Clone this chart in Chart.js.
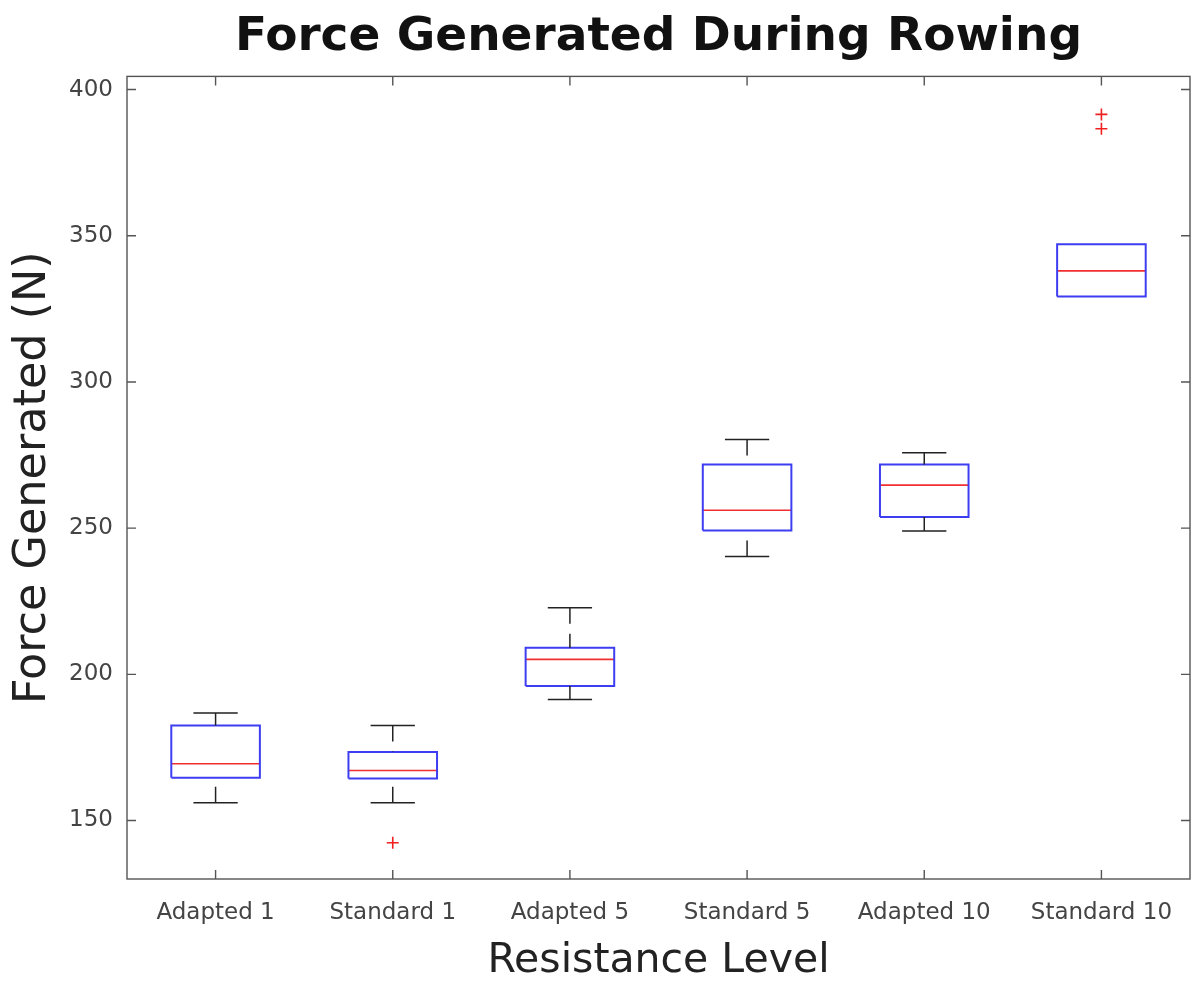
<!DOCTYPE html>
<html>
<head>
	<meta charset="utf-8">
	<title>Force Generated During Rowing</title>
	<script src="https://cdn.jsdelivr.net/npm/chart.js"></script>
	<style type="text/css">
		html, body { margin: 0; padding: 0; background: #fff; overflow: hidden; }
		#wrap { width: 1192px; height: 983px; position: relative; }
	</style>
</head>
<body>
<div id="wrap">
	<canvas id="rowChart"></canvas>
</div>
<script>
// values
const levels   = ['Adapted 1', 'Standard 1', 'Adapted 5', 'Standard 5', 'Adapted 10', 'Standard 10'];
const whiskLo  = [156.1, 156.1, 191.4, 240.3, 249.0, 329.2];
const q1       = [164.6, 164.4, 196.0, 249.2, 253.8, 329.2];
const medians  = [169.4, 167.1, 205.1, 256.1, 264.7, 338.0];
const q3       = [182.5, 173.4, 209.1, 271.8, 271.8, 347.1];
const whiskHi  = [186.8, 182.5, 222.8, 280.3, 275.8, 347.1];
const outGroup = [2, 6, 6];
const outValue = [142.4, 386.6, 391.5];
const yTicks   = [150, 200, 250, 300, 350, 400];

const FONT = "'DejaVu Sans', sans-serif";
const HALF_BOX = 0.25, HALF_CAP = 0.125;

// build line segments (null y breaks the line)
function segs(fn) {
	const out = [];
	levels.forEach(function(lab, i) {
		fn(i + 1, i).forEach(function(p) { out.push(p); });
		out.push({x: i + 1, y: null});
	});
	return out;
}

const boxData = segs(function(x, i) {
	return [{x: x - HALF_BOX, y: q1[i]}, {x: x - HALF_BOX, y: q3[i]},
	        {x: x + HALF_BOX, y: q3[i]}, {x: x + HALF_BOX, y: q1[i]},
	        {x: x - HALF_BOX, y: q1[i]}];
});
const medData = segs(function(x, i) {
	return [{x: x - HALF_BOX, y: medians[i]}, {x: x + HALF_BOX, y: medians[i]}];
});
const upWhisk = segs(function(x, i) {
	return [{x: x, y: whiskHi[i]}, {x: x, y: q3[i]}];
});
const loWhisk = segs(function(x, i) {
	return [{x: x, y: whiskLo[i]}, {x: x, y: q1[i]}];
});
const capData = [];
levels.forEach(function(lab, i) {
	const x = i + 1;
	if (whiskHi[i] > q3[i]) {
		capData.push({x: x - HALF_CAP, y: whiskHi[i]}, {x: x + HALF_CAP, y: whiskHi[i]}, {x: x, y: null});
	}
	if (whiskLo[i] < q1[i]) {
		capData.push({x: x - HALF_CAP, y: whiskLo[i]}, {x: x + HALF_CAP, y: whiskLo[i]}, {x: x, y: null});
	}
});
const outData = outValue.map(function(v, k) { return {x: outGroup[k], y: v}; });

// box around axes + inward tick marks (matlab look)
const axesFrame = {
	id: 'axesFrame',
	afterDraw: function(chart) {
		const ctx = chart.ctx, a = chart.chartArea;
		const xs = chart.scales.x, ys = chart.scales.y;
		const tl = 9;
		ctx.save();
		ctx.strokeStyle = '#555';
		ctx.lineWidth = 1.4;
		ctx.strokeRect(a.left, a.top, a.right - a.left, a.bottom - a.top);
		ctx.beginPath();
		xs.ticks.forEach(function(t) {
			const px = xs.getPixelForValue(t.value);
			ctx.moveTo(px, a.bottom); ctx.lineTo(px, a.bottom - tl);
			ctx.moveTo(px, a.top); ctx.lineTo(px, a.top + tl);
		});
		ys.ticks.forEach(function(t) {
			const py = ys.getPixelForValue(t.value);
			ctx.moveTo(a.left, py); ctx.lineTo(a.left + tl, py);
			ctx.moveTo(a.right, py); ctx.lineTo(a.right - tl, py);
		});
		ctx.stroke();
		ctx.restore();
	}
};

const lineDs = function(label, data, color, width, dash) {
	return {
		type: 'line', label: label, data: data,
		borderColor: color, borderWidth: width, borderDash: dash || [],
		pointRadius: 0, spanGaps: false, fill: false, tension: 0
	};
};

new Chart(document.getElementById('rowChart'), {
	type: 'scatter',
	data: {
		datasets: [
			lineDs('upper whisker', upWhisk, '#222', 1.5, [16, 10]),
			lineDs('lower whisker', loWhisk, '#222', 1.5, [16, 10]),
			lineDs('caps', capData, '#222', 1.5),
			lineDs('boxes', boxData, '#3d3df2', 2),
			lineDs('medians', medData, '#f03030', 1.6),
			{
				type: 'scatter', label: 'outliers', data: outData,
				pointStyle: 'cross', pointRadius: 6, borderColor: '#f02020',
				borderWidth: 1.6, showLine: false
			}
		]
	},
	options: {
		responsive: true,
		maintainAspectRatio: false,
		animation: false,
		layout: { autoPadding: false, padding: { left: 0, right: 2, top: 0, bottom: 0 } },
		plugins: {
			legend: { display: false },
			tooltip: { enabled: false },
			title: {
				display: true,
				fullSize: false,
				text: 'Force Generated During Rowing',
				color: '#111',
				font: { family: FONT, size: 47, weight: 'bold' },
				padding: { top: 10, bottom: 10 }
			}
		},
		scales: {
			x: {
				type: 'linear', min: 0.5, max: 6.5,
				afterBuildTicks: function(s) { s.ticks = levels.map(function(l, i) { return {value: i + 1}; }); },
				afterFit: function(s) { s.height = 104; s.paddingLeft = 0; s.paddingRight = 0; },
				grid: { drawOnChartArea: false, drawTicks: false },
				border: { display: false },
				ticks: {
					autoSkip: false, maxRotation: 0, padding: 20, color: '#444',
					font: { family: FONT, size: 23 },
					callback: function(v) { return levels[v - 1]; }
				},
				title: {
					display: true, text: 'Resistance Level', color: '#222',
					font: { family: FONT, size: 41 }, padding: { top: 0, bottom: -3 }
				}
			},
			y: {
				min: 130, max: 404.5,
				afterBuildTicks: function(s) { s.ticks = yTicks.map(function(v) { return {value: v}; }); },
				afterFit: function(s) { s.width = 127; s.paddingTop = 0; s.paddingBottom = 0; },
				grid: { drawOnChartArea: false, drawTicks: false },
				border: { display: false },
				ticks: { padding: 14, color: '#444', font: { family: FONT, size: 23 } },
				title: {
					display: true, text: 'Force Generated (N)', color: '#222',
					font: { family: FONT, size: 44.5 }, padding: { top: 7, bottom: 0 }
				}
			}
		}
	},
	plugins: [axesFrame]
});
</script>
</body>
</html>
